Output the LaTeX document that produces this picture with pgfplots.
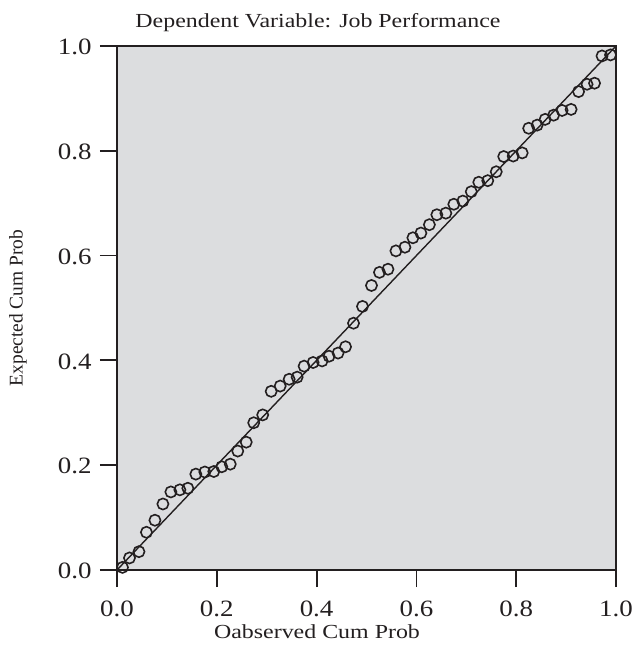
\documentclass[border=0pt]{standalone}
\usepackage{pgfplots}
\pgfplotsset{compat=1.18}
\usepackage{fontspec}
\setmainfont{Liberation Serif}
\newfontfamily\widetick[FakeStretch=1.15]{Liberation Serif}
\newfontfamily\widelab[FakeStretch=1.2]{Liberation Serif}
\definecolor{bg}{HTML}{DCDDDF}
\definecolor{ink}{HTML}{231F20}
\pgfplotstableread{
x y
0.011 0.005
0.025 0.023
0.044 0.035
0.059 0.072
0.076 0.095
0.092 0.126
0.108 0.149
0.126 0.153
0.142 0.156
0.158 0.183
0.176 0.187
0.194 0.188
0.210 0.197
0.227 0.202
0.242 0.227
0.259 0.244
0.274 0.281
0.292 0.296
0.309 0.341
0.327 0.351
0.345 0.364
0.361 0.368
0.375 0.389
0.393 0.396
0.411 0.399
0.425 0.408
0.443 0.414
0.458 0.426
0.474 0.471
0.492 0.503
0.510 0.543
0.526 0.568
0.543 0.574
0.559 0.609
0.577 0.616
0.593 0.634
0.609 0.643
0.626 0.659
0.641 0.678
0.659 0.681
0.675 0.698
0.693 0.704
0.710 0.722
0.725 0.740
0.743 0.743
0.760 0.760
0.775 0.789
0.794 0.790
0.812 0.796
0.825 0.843
0.842 0.849
0.858 0.860
0.875 0.868
0.892 0.877
0.910 0.879
0.925 0.913
0.942 0.927
0.957 0.929
0.972 0.981
0.989 0.983
}\pts
\begin{document}
\begin{tikzpicture}
\useasboundingbox (-117bp,-82bp) rectangle (515bp,570bp);
\begin{axis}[
  at={(0,0)}, anchor=south west,
  scale only axis, width=499bp, height=524bp,
  xmin=0, xmax=1, ymin=0, ymax=1,
  axis background/.style={fill=bg},
  axis line style={ink, line width=1.8bp},
  tick style={ink, line width=1.8bp},
  tick align=outside, major tick length=17bp,
  xtick={0,0.2,0.4,0.6,0.8,1.0},
  ytick={0,0.2,0.4,0.6,0.8,1.0},
  xtick pos=bottom, ytick pos=left,
  minor tick num=0,
  /pgf/number format/.cd, fixed, fixed zerofill, precision=1, assume math mode=true,
  /pgfplots/.cd,
  ticklabel style={font=\widetick\fontsize{23.5}{28}\selectfont, text=ink},
  xticklabel style={yshift=-10bp},
  yticklabel style={xshift=-5bp, yshift=-1bp},
  clip=false,
]
\addplot[ink, line width=1.4bp] coordinates {(0,0) (1,1)};
\addplot[only marks, mark=o, mark size=5.6bp, mark options={ink, line width=1.6bp}] table[x=x, y=y] {\pts};
\end{axis}
\node[font=\widelab\fontsize{20}{24}\selectfont, text=ink] at (201bp,547bp) {Dependent Variable: Job Performance};
\node[font=\widelab\fontsize{20}{24}\selectfont, text=ink] at (200bp,-62bp) {Oabserved Cum Prob};
\node[font=\fontsize{19.5}{23}\selectfont, text=ink, rotate=90] at (-99bp,262bp) {Expected Cum Prob};
\end{tikzpicture}
\end{document}
